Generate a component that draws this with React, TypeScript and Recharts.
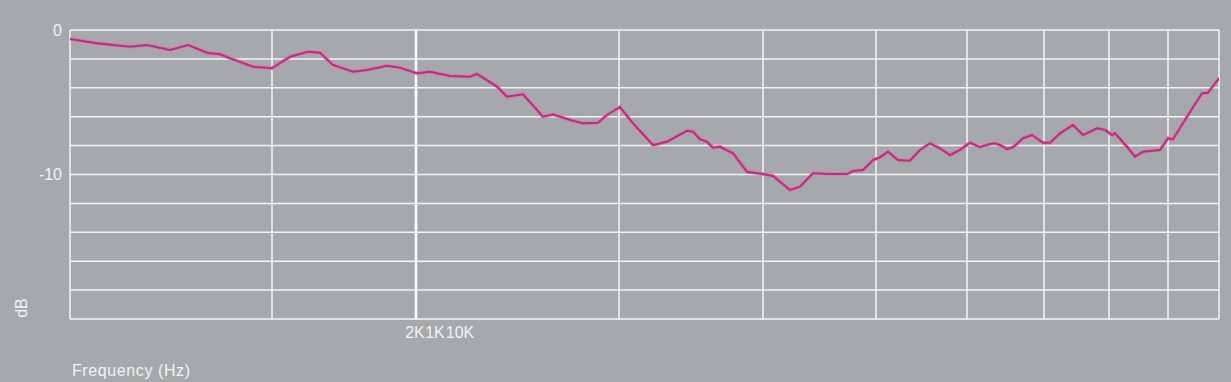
import { LineChart, Line, XAxis, YAxis, CartesianGrid, ReferenceLine } from 'recharts';

// position along the frequency axis (px-like units from the left edge of the plot)
const positions = [
  0, 27, 60, 77, 100, 118, 137, 150, 163, 183, 202, 220, 238, 250, 263, 283, 297, 317, 330, 347,
  360, 380, 400, 407, 427, 437, 453, 473, 483, 500, 513, 528, 537, 550, 563, 583, 597, 617, 623, 630,
  637, 643, 650, 663, 677, 693, 703, 720, 730, 743, 757, 777, 783, 793, 803, 810, 818, 828, 840, 850,
  860, 870, 880, 890, 900, 910, 920, 925, 930, 937, 943, 953, 962, 973, 980, 990, 1003, 1013, 1027, 1035,
  1042, 1045, 1057, 1065, 1073, 1090, 1098, 1103, 1117, 1132, 1138, 1149,
];

const dbValues = [
  -0.62, -0.92, -1.16, -1.04, -1.38, -1.04, -1.57, -1.68, -2.03, -2.54, -2.65, -1.85, -1.5, -1.57, -2.42, -2.89, -2.77, -2.47, -2.61, -3.0,
  -2.89, -3.18, -3.23, -3.04, -3.92, -4.62, -4.45, -6.0, -5.83, -6.23, -6.46, -6.42, -5.88, -5.33, -6.46, -7.96, -7.73, -6.97, -7.04, -7.56,
  -7.73, -8.15, -8.08, -8.53, -9.81, -9.97, -10.1, -11.07, -10.84, -9.92, -9.97, -9.97, -9.76, -9.69, -9.0, -8.81, -8.42, -9.0, -9.04, -8.3,
  -7.84, -8.19, -8.65, -8.3, -7.8, -8.1, -7.89, -7.84, -7.96, -8.24, -8.12, -7.49, -7.27, -7.8, -7.8, -7.15, -6.57, -7.27, -6.8, -6.92,
  -7.27, -7.15, -8.08, -8.77, -8.42, -8.3, -7.49, -7.56, -6.0, -4.38, -4.34, -3.34,
];

const gridTicks = [0, 202, 346, 549, 693, 806, 897, 974, 1039, 1098, 1149];
const yTicks = [0, -2, -4, -6, -8, -10, -12, -14, -16, -18, -20];
const yLabels = [0, -10];
const freqLabelPos = [345, 365, 390];
const freqLabels = ['2K', '1K', '10K'];

const data = positions.map((x, i) => ({ x, db: dbValues[i] }));

const BG = '#a6a9ab';
const TEXT = '#f3f3f3';
const GRID = '#f4f4f4';

export default function App() {
  return (
    <div style={{ position: 'absolute', left: 0, top: 0, width: 1231, height: 382, background: BG, fontFamily: '"Liberation Sans", Arial, sans-serif' }}>
      <LineChart width={1231} height={382} data={data} margin={{ top: 30, right: 12, bottom: 0, left: 0 }}>
        <CartesianGrid xAxisId="grid" stroke={GRID} strokeWidth={1.5} />
        <XAxis
          xAxisId="grid"
          dataKey="x"
          type="number"
          domain={[0, 1149]}
          allowDataOverflow
          ticks={gridTicks}
          interval={0}
          height={0}
          axisLine={false}
          tickLine={false}
          tickFormatter={() => ''}
        />
        <XAxis
          xAxisId="lbl"
          dataKey="x"
          type="number"
          domain={[0, 1149]}
          allowDataOverflow
          ticks={freqLabelPos}
          interval={0}
          height={63}
          axisLine={false}
          tickLine={false}
          tick={{ fill: TEXT, fontSize: 16 }}
          tickFormatter={(v: number) => freqLabels[freqLabelPos.indexOf(v)] ?? ''}
        />
        <YAxis
          type="number"
          domain={[-20, 0]}
          ticks={yTicks}
          interval={0}
          width={70}
          axisLine={false}
          tickLine={false}
          tick={{ fill: TEXT, fontSize: 16 }}
          tickFormatter={(v: number) => (yLabels.includes(v) ? String(v) : '')}
        />
        <ReferenceLine xAxisId="grid" x={346} stroke="#ffffff" strokeWidth={2.5} />
        <Line
          xAxisId="grid"
          type="linear"
          dataKey="db"
          stroke="#e072b0"
          strokeOpacity={0.75}
          strokeWidth={4}
          dot={false}
          isAnimationActive={false}
        />
        <Line
          xAxisId="grid"
          type="linear"
          dataKey="db"
          stroke="#b3337a"
          strokeWidth={2}
          dot={false}
          isAnimationActive={false}
        />
      </LineChart>
      <svg width={1231} height={382} style={{ position: 'absolute', left: 0, top: 0, pointerEvents: 'none' }}>
        <text x={72} y={376} fill={TEXT} fontSize={16} letterSpacing={0.6}>Frequency (Hz)</text>
        <text x={0} y={0} fill={TEXT} fontSize={16} textAnchor="middle" transform="translate(27,308) rotate(-90)">dB</text>
      </svg>
    </div>
  );
}
